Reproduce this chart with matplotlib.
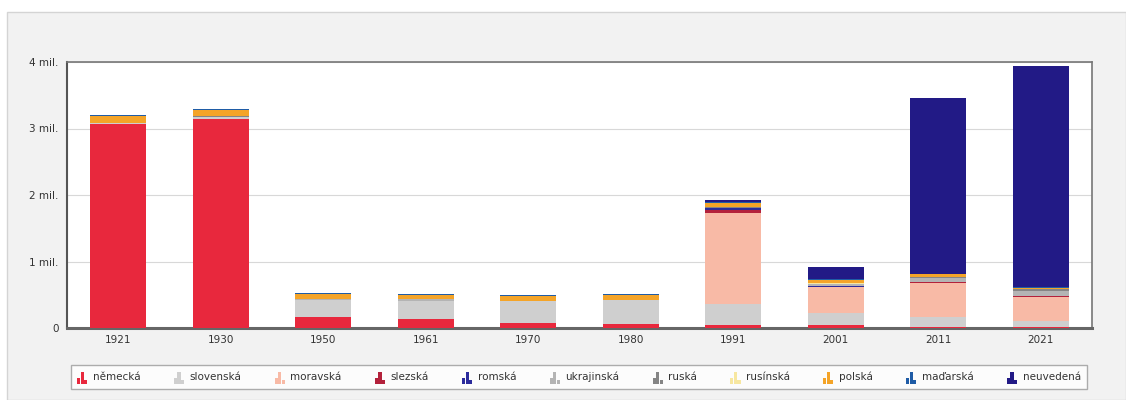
import matplotlib.pyplot as plt
from matplotlib.patches import Rectangle
from matplotlib.legend_handler import HandlerBase
import numpy as np

years = ['1921', '1930', '1950', '1961', '1970', '1980', '1991', '2001', '2011', '2021']

# values in millions, one list per nationality (bottom -> top of stack)
nemecka    = [3.061, 3.140, 0.160, 0.134, 0.081, 0.058, 0.049, 0.039, 0.019, 0.010]
slovenska  = [0.016, 0.030, 0.258, 0.276, 0.321, 0.359, 0.315, 0.193, 0.140, 0.096]
moravska   = [0, 0, 0, 0, 0, 0, 1.362, 0.380, 0.522, 0.360]
slezska    = [0, 0, 0, 0, 0, 0, 0.044, 0.011, 0.012, 0.012]
romska     = [0, 0, 0, 0, 0, 0, 0.033, 0.012, 0.005, 0.004]
ukrajinska = [0, 0, 0.019, 0.020, 0.010, 0.010, 0.008, 0.022, 0.053, 0.076]
ruska      = [0.008, 0.012, 0, 0, 0, 0, 0.005, 0.012, 0.018, 0.022]
rusinska   = [0, 0, 0, 0, 0, 0, 0.002, 0.001, 0.001, 0.001]
polska     = [0.104, 0.093, 0.071, 0.067, 0.064, 0.066, 0.059, 0.052, 0.039, 0.028]
madarska   = [0.007, 0.011, 0.013, 0.015, 0.018, 0.020, 0.020, 0.015, 0.009, 0.006]
neuvedena  = [0, 0, 0, 0, 0, 0, 0.022, 0.173, 2.640, 3.320]

series = [
    ('německá', nemecka, '#e8283d'),
    ('slovenská', slovenska, '#cfcfcf'),
    ('moravská', moravska, '#f8baa6'),
    ('slezská', slezska, '#b3213b'),
    ('romská', romska, '#2b2b9c'),
    ('ukrajinská', ukrajinska, '#b4b4b4'),
    ('ruská', ruska, '#858585'),
    ('rusínská', rusinska, '#f7e7a0'),
    ('polská', polska, '#f4a428'),
    ('maďarská', madarska, '#1f5ca6'),
    ('neuvedená', neuvedena, '#221a86'),
]


class BarIcon(HandlerBase):
    # small three-bar glyph like the original legend icons
    def create_artists(self, legend, orig_handle, xdescent, ydescent, width, height, fontsize, trans):
        c = orig_handle.get_facecolor()
        w = width / 3.4
        hs = [0.55, 1.0, 0.35]
        arts = []
        for i, h in enumerate(hs):
            r = Rectangle((-xdescent + i * w * 1.15, -ydescent - 1), w, height * h,
                          facecolor=c, lw=0, transform=trans)
            arts.append(r)
        return arts


fig = plt.figure(figsize=(11.26, 4), dpi=100)
fig.patch.set_facecolor('white')
fig.patches.append(Rectangle((7 / 1126, 0), 1 - 7 / 1126, 388 / 400, transform=fig.transFigure,
                             facecolor='#f2f2f2', edgecolor='#d4d4d4', lw=1, zorder=-10))

ax = fig.add_axes([67 / 1126, 72 / 400, 1025 / 1126, 266 / 400])
ax.set_facecolor('white')

x = np.arange(len(years))
bottom = np.zeros(len(years))
handles = []
for name, vals, col in series:
    v = np.array(vals) * 1e6
    b = ax.bar(x, v, 0.55, bottom=bottom, color=col, label=name, zorder=3)
    handles.append(b[0])
    bottom += v

ax.set_xlim(-0.5, 9.5)
ax.set_ylim(0, 4e6)
ax.set_yticks([0, 1e6, 2e6, 3e6, 4e6])
ax.set_yticklabels(['0', '1 mil.', '2 mil.', '3 mil.', '4 mil.'])
ax.set_xticks(x)
ax.set_xticklabels(years)
ax.tick_params(axis='both', length=0, labelsize=7.5, colors='#333333')
ax.tick_params(axis='x', pad=5)
ax.tick_params(axis='y', pad=6)
ax.yaxis.grid(True, color='#d8d8d8', lw=0.8, zorder=0)

for s in ['top', 'right']:
    ax.spines[s].set_color('#777777')
    ax.spines[s].set_linewidth(1.2)
ax.spines['left'].set_color('#555555')
ax.spines['left'].set_linewidth(1.5)
ax.spines['bottom'].set_color('#666666')
ax.spines['bottom'].set_linewidth(2.2)

leg = fig.legend(handles, [s[0] for s in series], loc='center', ncol=11,
                 bbox_to_anchor=(579 / 1126, 23 / 400), fontsize=7.5,
                 handler_map={h: BarIcon() for h in handles},
                 handlelength=1.0, handleheight=1.4, handletextpad=0.5,
                 columnspacing=3.2, frameon=True, fancybox=False,
                 borderpad=0.6, shadow=False)
leg.get_frame().set_edgecolor('#999999')
leg.get_frame().set_linewidth(1.0)
for t in leg.get_texts():
    t.set_color('#333333')

fig.savefig('out.png', dpi=100)
